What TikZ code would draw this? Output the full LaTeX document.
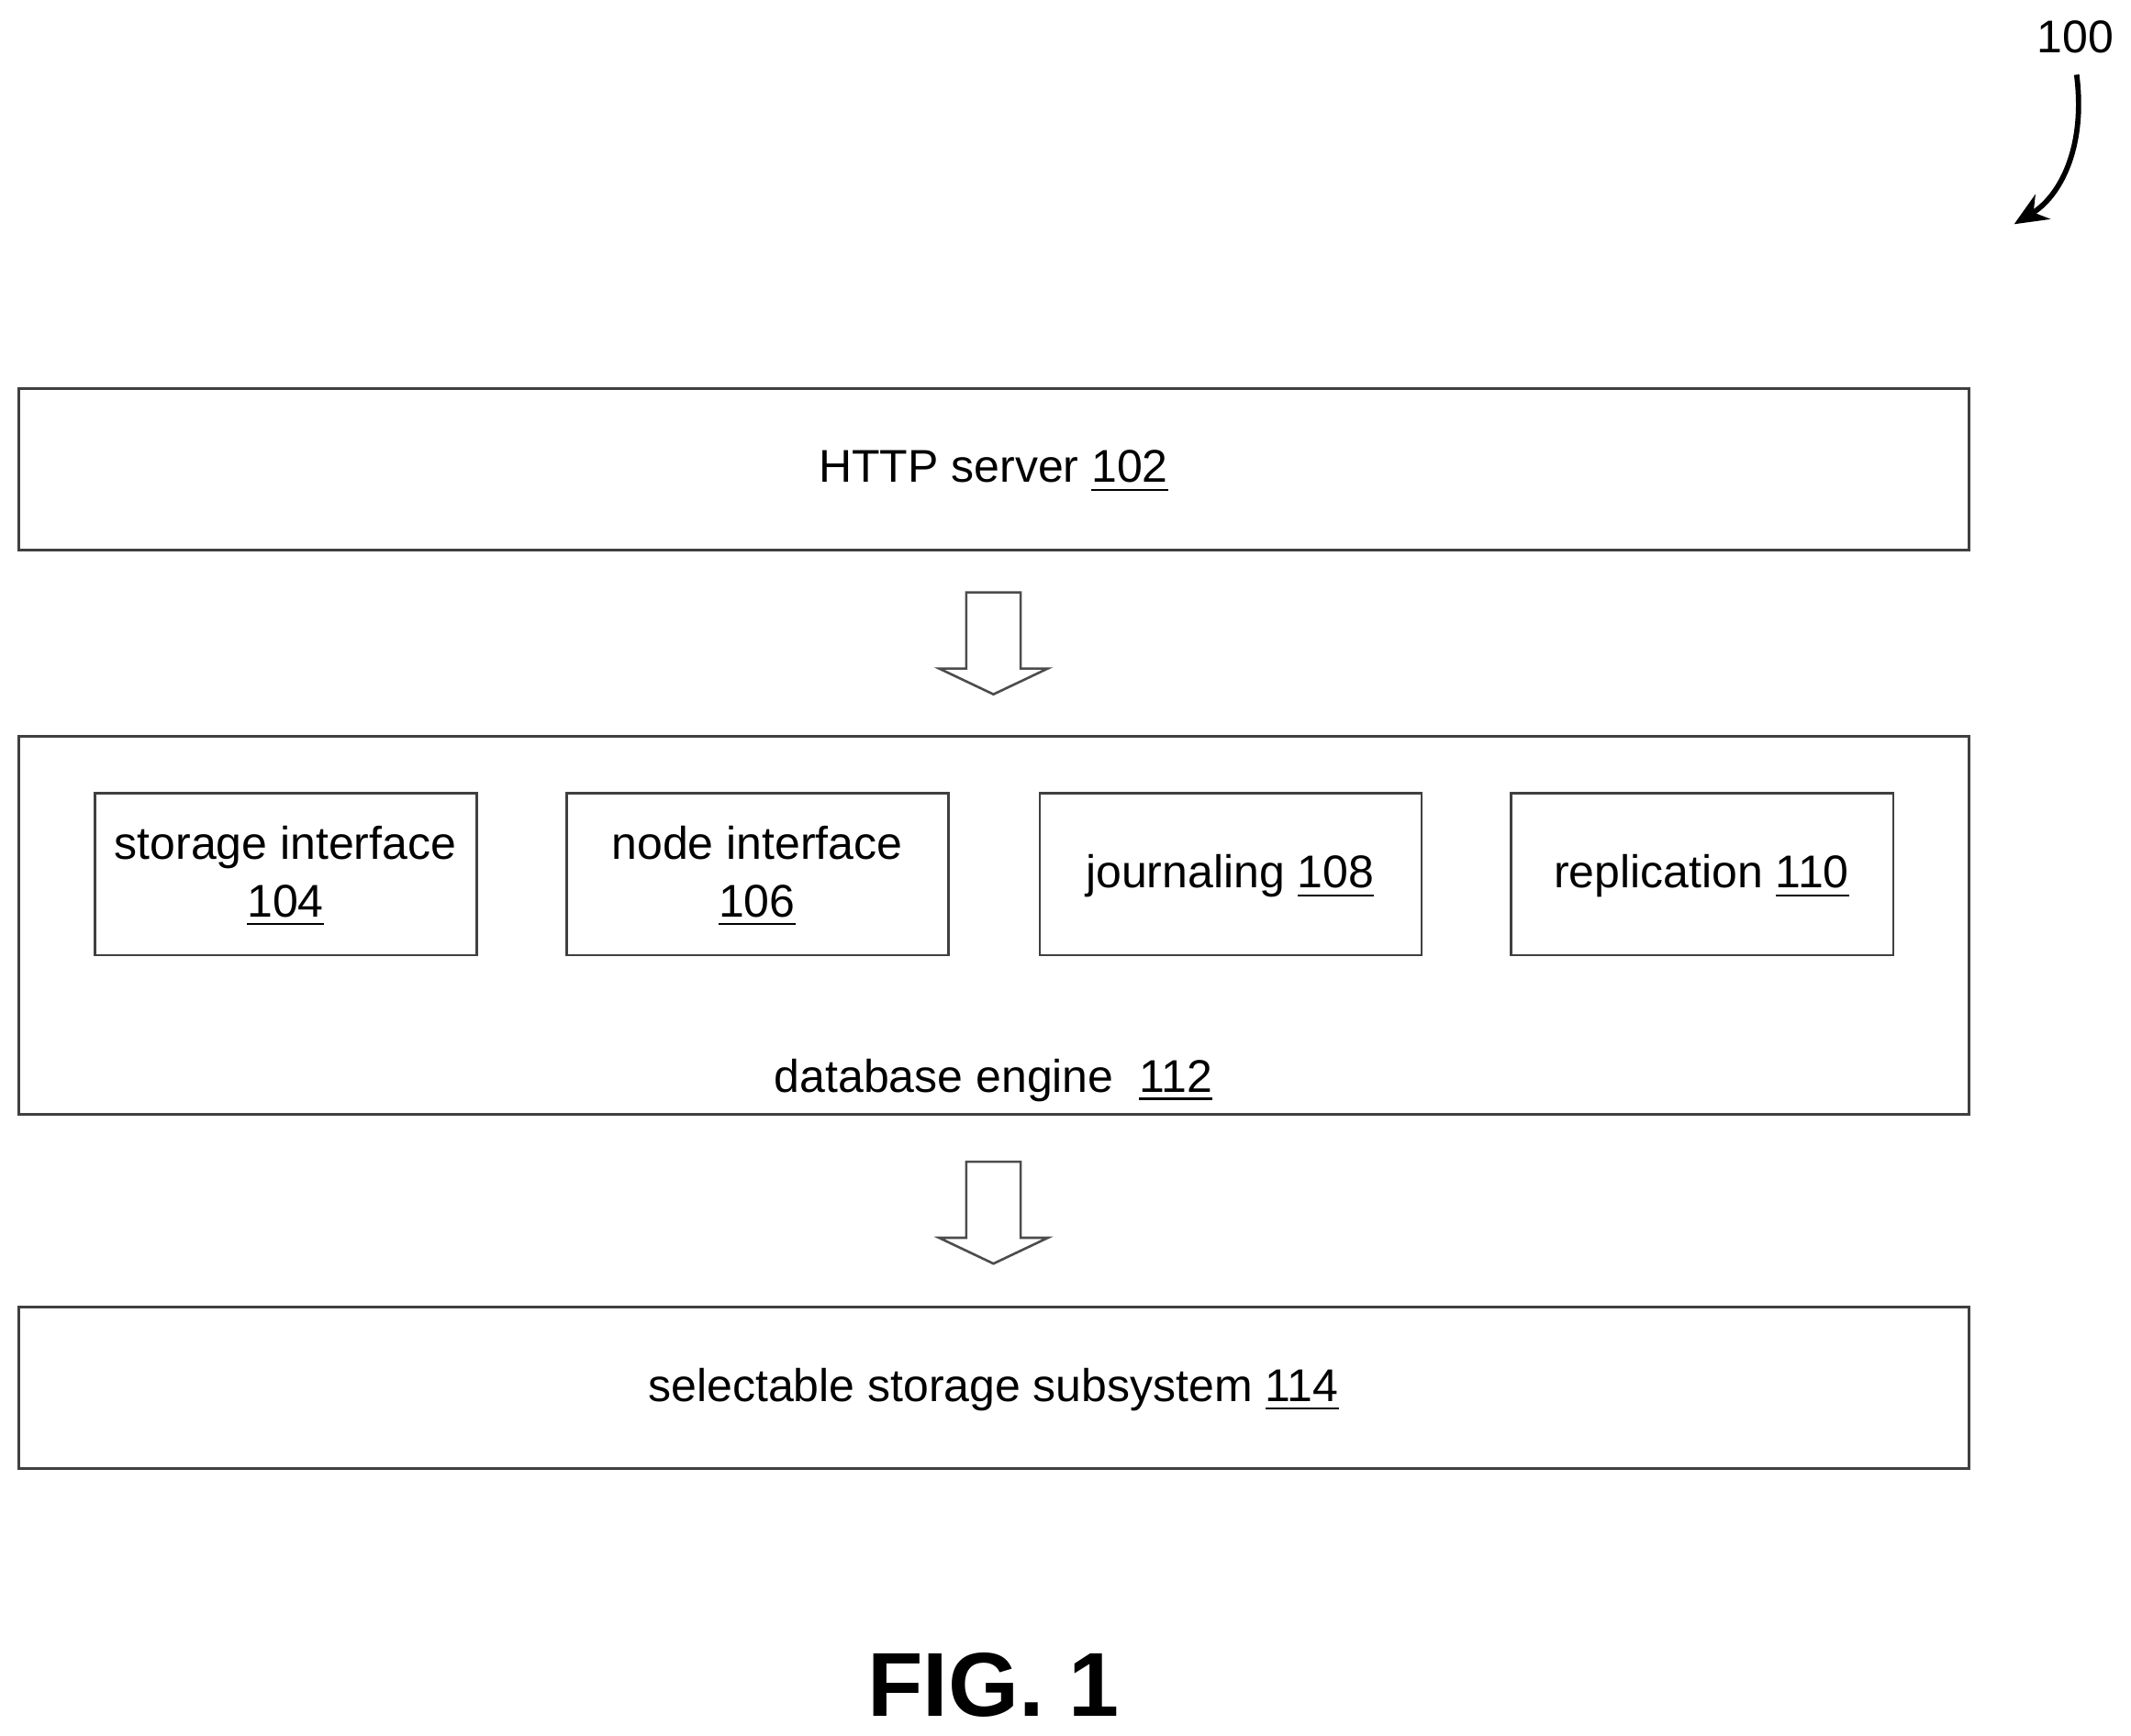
\documentclass[tikz,border=0pt]{standalone}
\usepackage{fontspec}
\setmainfont{Liberation Sans}
\usetikzlibrary{shapes.arrows,arrows.meta}
\begin{document}
\begin{tikzpicture}[x=0.01cm,y=-0.01cm,
  box/.style={draw=black!75,line width=0.5pt},
  lbl/.style={font=\fontsize{9.6}{12}\selectfont,align=center},
  blockarrow/.style={draw=black!70,line width=0.5pt,fill=white}]
\useasboundingbox (0,0) rectangle (1568,1277);
\draw[box] (14,286) rectangle (1449,405);
\node[lbl] (http) at (731,347) {HTTP server \underline{102}};
\draw[box] (14,542) rectangle (1449,820);
\node[lbl] (db) at (731,795) {database engine\ \ \underline{112}};
\draw[box] (14,962) rectangle (1449,1081);
\node[lbl] (sss) at (731,1023) {selectable storage subsystem \underline{114}};
\foreach \x/\t/\n in {70/{storage interface\\\underline{104}}/si,417/{node interface\\\underline{106}}/ni,765/{journaling \underline{108}}/jo,1112/{replication \underline{110}}/re}{
  \draw[box] (\x,584) rectangle ++(281,119);
  \node[lbl] (\n) at (\x+140,645) {\t};
}
\foreach \y in {436,855}{
  \draw[blockarrow] (711,\y) -- (751,\y) -- (751,\y+56) -- (771,\y+56) -- (731,\y+75) -- (691,\y+56) -- (711,\y+56) -- cycle;
}
\node[font=\fontsize{9.6}{12}\selectfont] (n100) at (1527,27) {100};
\draw[line width=1.1pt,-{Stealth[length=7pt,width=6pt]}] (1528,55) .. controls (1535,110) and (1515,145) .. (1482,165);
\node[font=\bfseries\fontsize{19}{22}\selectfont] (fig) at (731,1240) {FIG. 1};
\end{tikzpicture}
\end{document}
